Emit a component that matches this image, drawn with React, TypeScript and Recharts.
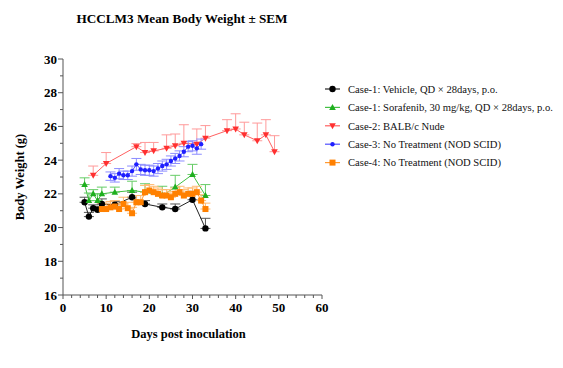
import React from "react";
import { LineChart, Line, XAxis, YAxis, ErrorBar, Legend } from "recharts";

// ---------------- data ----------------
const vehicleDays = [5, 6, 7, 8, 9, 12, 16, 19, 23, 26, 30, 33];
const vehicleWeight = [21.5, 20.65, 21.15, 21.05, 21.4, 21.35, 21.8, 21.4, 21.2, 21.1, 21.65, 19.95];
const vehicleSem = [0.3, 0.25, 0.2, 0.2, 0.3, 0.2, 0.3, 0.2, 0.2, 0.3, 0.5, 0.6];

const sorafenibDays = [5, 6, 7, 8, 9, 12, 16, 19, 23, 26, 30, 33];
const sorafenibWeight = [22.55, 21.6, 22.0, 21.6, 22.0, 22.1, 22.2, 22.1, 21.9, 22.4, 23.15, 21.9];
const sorafenibSem = [0.4, 0.45, 0.25, 0.4, 0.4, 0.3, 0.55, 0.5, 0.55, 0.7, 0.6, 0.65];

const nudeDays = [7, 10, 17, 19, 21, 24, 26, 28, 31, 33, 38, 40, 42, 45, 47, 49];
const nudeWeight = [23.1, 23.8, 24.8, 24.45, 24.55, 24.7, 24.85, 25.0, 24.95, 25.3, 25.75, 25.85, 25.5, 25.15, 25.5, 24.5];
const nudeSem = [0.55, 0.65, 0.18, 0.6, 0.5, 0.8, 0.7, 1.1, 0.9, 0.75, 0.65, 0.9, 0.75, 1.05, 0.9, 0.95];

const case3Days = [11, 12, 13, 14, 15, 16, 17, 18, 19, 20, 21, 22, 23, 24, 25, 26, 27, 28, 29, 30, 31, 32];
const case3Weight = [23.05, 22.95, 23.2, 23.1, 23.1, 23.35, 23.75, 23.45, 23.4, 23.4, 23.35, 23.5, 23.65, 23.75, 23.95, 24.1, 24.25, 24.5, 24.8, 24.85, 24.7, 24.95];
const case3Sem = [0.25, 0.25, 0.3, 0.25, 0.25, 0.3, 0.35, 0.3, 0.3, 0.3, 0.3, 0.3, 0.3, 0.3, 0.3, 0.3, 0.3, 0.3, 0.3, 0.3, 0.35, 0.3];

const case4Days = [9, 10, 11, 12, 13, 14, 15, 16, 17, 18, 19, 20, 21, 22, 23, 24, 25, 26, 27, 28, 29, 30, 31, 32, 33];
const case4Weight = [21.1, 21.1, 21.2, 21.25, 21.1, 21.4, 21.15, 20.85, 21.5, 21.5, 22.1, 22.2, 22.1, 22.0, 21.9, 21.9, 21.8, 22.0, 22.1, 21.9, 22.0, 22.0, 22.1, 21.6, 21.1];
const case4Sem = [0.35, 0.35, 0.35, 0.35, 0.35, 0.4, 0.35, 0.35, 0.4, 0.4, 0.4, 0.35, 0.35, 0.35, 0.35, 0.35, 0.35, 0.35, 0.35, 0.35, 0.35, 0.35, 0.35, 0.35, 0.35];

const xTicks = [0, 2, 4, 6, 8, 10, 12, 14, 16, 18, 20, 22, 24, 26, 28, 30, 32, 34, 36, 38, 40, 42, 44, 46, 48, 50, 52, 54, 56, 58, 60];
const yTicks = [16, 17, 18, 19, 20, 21, 22, 23, 24, 25, 26, 27, 28, 29, 30];

const seriesNames = [
  "Case-1: Vehicle, QD × 28days, p.o.",
  "Case-1: Sorafenib, 30 mg/kg, QD × 28days, p.o.",
  "Case-2: BALB/c Nude",
  "Case-3: No Treatment (NOD SCID)",
  "Case-4: No Treatment (NOD SCID)",
];

// ---------------- helpers ----------------
const build = (days: number[], w: number[], e: number[], twoSided: boolean) =>
  days.map((d, i) => ({ day: d, w: w[i], e: twoSided ? [e[i], e[i]] : [0, e[i]] }));

type Shape = "circle" | "triUp" | "triDown" | "smallCircle" | "square";

const FONT = "'Liberation Serif', 'Times New Roman', serif";

function Marker({ shape, cx, cy, color }: { shape: Shape; cx: number; cy: number; color: string }) {
  if (cx == null || cy == null || isNaN(cx) || isNaN(cy)) return null;
  switch (shape) {
    case "circle":
      return <circle cx={cx} cy={cy} r={3.2} fill={color} />;
    case "smallCircle":
      return <circle cx={cx} cy={cy} r={2.2} fill={color} />;
    case "square":
      return <rect x={cx - 3} y={cy - 3} width={6} height={6} fill={color} />;
    case "triUp":
      return <polygon points={`${cx},${cy - 3.5} ${cx - 3.3},${cy + 2.5} ${cx + 3.3},${cy + 2.5}`} fill={color} />;
    case "triDown":
      return <polygon points={`${cx},${cy + 3.5} ${cx - 3.3},${cy - 2.5} ${cx + 3.3},${cy - 2.5}`} fill={color} />;
  }
  return null;
}

const series = [
  { name: seriesNames[0], data: build(vehicleDays, vehicleWeight, vehicleSem, false), color: "#000000", line: "#222222", err: "#555555", shape: "circle" as Shape },
  { name: seriesNames[1], data: build(sorafenibDays, sorafenibWeight, sorafenibSem, false), color: "#1FAF1F", line: "#44C044", err: "#66CC66", shape: "triUp" as Shape },
  { name: seriesNames[2], data: build(nudeDays, nudeWeight, nudeSem, false), color: "#FF3030", line: "#FF6060", err: "#FF9A9A", shape: "triDown" as Shape },
  { name: seriesNames[3], data: build(case3Days, case3Weight, case3Sem, true), color: "#1F1FFF", line: "#5050FF", err: "#8C8CFF", shape: "smallCircle" as Shape },
  { name: seriesNames[4], data: build(case4Days, case4Weight, case4Sem, false), color: "#FF8000", line: "#FF9A33", err: "#FFBA70", shape: "square" as Shape },
];

const AXIS = "#555555";

function YTick(props: any) {
  const { x, y, payload } = props;
  const v = payload.value;
  const major = v % 2 === 0;
  return (
    <g>
      <line x1={x - (major ? 5 : 3)} x2={x} y1={y} y2={y} stroke={AXIS} strokeWidth={1} />
      {major && (
        <text x={x - 6} y={y + 4.5} textAnchor="end" fontFamily={FONT} fontWeight="bold" fontSize={13} fill="#000">
          {v}
        </text>
      )}
    </g>
  );
}

function XTick(props: any) {
  const { x, y, payload } = props;
  const v = payload.value;
  const major = v % 10 === 0;
  return (
    <g>
      <line x1={x} x2={x} y1={y} y2={y + (major ? 4 : 3)} stroke={AXIS} strokeWidth={1} />
      {major && (
        <text x={x} y={y + 17} textAnchor="middle" fontFamily={FONT} fontWeight="bold" fontSize={13} fill="#000">
          {v}
        </text>
      )}
    </g>
  );
}

function LegendContent() {
  return (
    <svg width={243} height={100} style={{ display: "block" }}>
      {series.map((s, i) => {
        const cy = 11 + i * 18.4;
        return (
          <g key={s.name}>
            <line x1={5} x2={20} y1={cy} y2={cy} stroke={s.line} strokeWidth={1.2} />
            <Marker shape={s.shape} cx={12.5} cy={cy} color={s.color} />
            <text x={28} y={cy + 3.8} fontFamily={FONT} fontSize={10.6} fill="#111">
              {s.name}
            </text>
          </g>
        );
      })}
    </svg>
  );
}

export default function App() {
  return (
    <div style={{ position: "absolute", left: 0, top: 0, width: 563, height: 368, background: "#fff" }}>
      <div
        style={{
          position: "absolute",
          left: 0,
          top: 11,
          width: 364,
          textAlign: "center",
          fontFamily: FONT,
          fontWeight: "bold",
          fontSize: 13.2,
          lineHeight: "15px",
          color: "#000",
        }}
      >
        HCCLM3 Mean Body Weight ± SEM
      </div>
      <LineChart width={563} height={368} margin={{ top: 59, right: 241, bottom: 43, left: 23 }}>
        <XAxis
          type="number"
          dataKey="day"
          domain={[0, 60]}
          ticks={xTicks}
          interval={0}
          height={30}
          tickSize={0}
          tickMargin={0}
          tickLine={false}
          tick={<XTick />}
          axisLine={{ stroke: AXIS }}
          allowDuplicatedCategory={false}
          label={{
            value: "Days post inoculation",
            position: "bottom",
            offset: 4,
            dx: -4,
            style: { fontFamily: FONT, fontWeight: "bold", fontSize: 12.5, fill: "#000" },
          }}
        />
        <YAxis
          type="number"
          domain={[16, 30]}
          ticks={yTicks}
          interval={0}
          width={40}
          tickSize={0}
          tickMargin={0}
          tickLine={false}
          tick={<YTick />}
          axisLine={{ stroke: AXIS }}
          allowDataOverflow
          label={{
            value: "Body Weight (g)",
            angle: -90,
            position: "insideLeft",
            offset: -3,
            style: { fontFamily: FONT, fontWeight: "bold", fontSize: 12.5, fill: "#000", textAnchor: "middle" },
          }}
        />
        {series.map((s) => (
          <Line
            key={s.name}
            name={s.name}
            data={s.data}
            dataKey="w"
            stroke={s.line}
            strokeWidth={1}
            isAnimationActive={false}
            dot={(p: any) => <Marker key={`${s.name}-${p.index}`} shape={s.shape} cx={p.cx} cy={p.cy} color={s.color} />}
            activeDot={false}
          >
            <ErrorBar dataKey="e" direction="y" width={5} stroke={s.err} strokeWidth={1} />
          </Line>
        ))}
        <Legend
          layout="vertical"
          align="center"
          verticalAlign="middle"
          width={243}
          height={100}
          wrapperStyle={{ left: 320, top: 78, width: 243, height: 100 }}
          content={<LegendContent />}
        />
      </LineChart>
    </div>
  );
}
